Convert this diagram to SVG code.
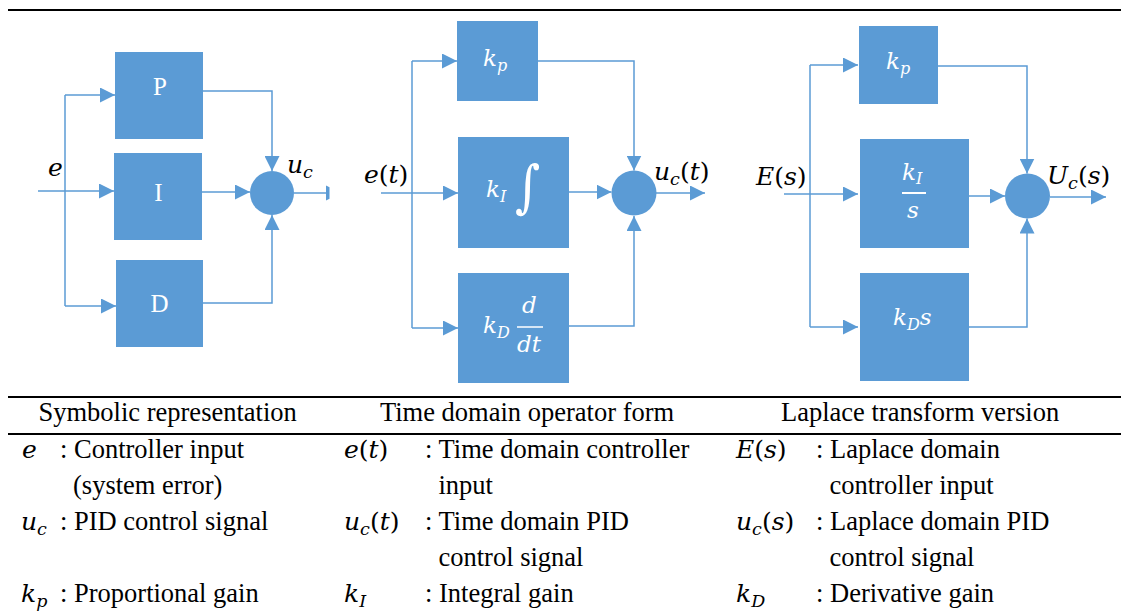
<svg xmlns="http://www.w3.org/2000/svg" width="1121" height="614" viewBox="0 0 1121 614">
<style>
.box{fill:#5b9bd5}
.ln{fill:none;stroke:#5b9bd5;stroke-width:1.5}
.m{font-family:"DejaVu Serif",serif;font-style:italic;font-size:25px;fill:#000}
.up{font-style:normal}
.sb{font-size:17.5px}
.wm{font-family:"DejaVu Serif",serif;font-style:italic;font-size:23px;fill:#fff}
.ws{font-size:16px}
.bl{font-family:"Liberation Serif","Times New Roman",serif;font-size:25px;fill:#fff}
.t{font-family:"Liberation Serif","Times New Roman",serif;font-size:26.5px;fill:#000}
.rule{stroke:#000;stroke-width:2}
.bar{stroke:#fff;stroke-width:1.5}
</style>
<defs>
<marker id="ah" markerUnits="userSpaceOnUse" markerWidth="15" markerHeight="15" refX="15" refY="7.5" orient="auto"><path d="M0,0 L15,7.5 L0,15 z" fill="#5b9bd5"/></marker>
</defs>
<rect width="1121" height="614" fill="#fff"/>
<line class="rule" x1="8" y1="10" x2="1121" y2="10"/>

<g id="connectors">
<path class="ln" d="M38,191 H114" marker-end="url(#ah)"/>
<path class="ln" d="M65,95 V306"/>
<path class="ln" d="M65,95 H115" marker-end="url(#ah)"/>
<path class="ln" d="M65,306 H116" marker-end="url(#ah)"/>
<path class="ln" d="M203,91 H272 V171" marker-end="url(#ah)"/>
<path class="ln" d="M202,192 H250" marker-end="url(#ah)"/>
<path class="ln" d="M203,303 H272 V215" marker-end="url(#ah)"/>
<path class="ln" d="M294,193 H327"/>
<polygon points="326,185.5 329.5,187.3 329.5,198.7 326,200.5" fill="#5b9bd5"/>

<path class="ln" d="M381,193 H458" marker-end="url(#ah)"/>
<path class="ln" d="M412,61 V328"/>
<path class="ln" d="M412,61 H457" marker-end="url(#ah)"/>
<path class="ln" d="M412,328 H458" marker-end="url(#ah)"/>
<path class="ln" d="M538,61 H634 V170.5" marker-end="url(#ah)"/>
<path class="ln" d="M569,192 H611.5" marker-end="url(#ah)"/>
<path class="ln" d="M569,326 H634 V216" marker-end="url(#ah)"/>
<path class="ln" d="M656,193 H705" marker-end="url(#ah)"/>

<path class="ln" d="M784,194 H858" marker-end="url(#ah)"/>
<path class="ln" d="M810,65 V327"/>
<path class="ln" d="M810,65 H858" marker-end="url(#ah)"/>
<path class="ln" d="M810,327 H858" marker-end="url(#ah)"/>
<path class="ln" d="M938,66 H1027 V173.5" marker-end="url(#ah)"/>
<path class="ln" d="M969,196 H1005" marker-end="url(#ah)"/>
<path class="ln" d="M969,327 H1027 V218.5" marker-end="url(#ah)"/>
<path class="ln" d="M1050,197 H1106" marker-end="url(#ah)"/>
</g>

<g id="sym-P"><rect class="box" x="115" y="52" width="88" height="87"/><text class="bl" x="160" y="95" text-anchor="middle">P</text></g>
<g id="sym-I"><rect class="box" x="114" y="153" width="88" height="87"/><text class="bl" x="158.5" y="201" text-anchor="middle">I</text></g>
<g id="sym-D"><rect class="box" x="116" y="260" width="87" height="87"/><text class="bl" x="159.5" y="312" text-anchor="middle">D</text></g>
<g id="sym-sum"><circle class="box" cx="272" cy="193" r="22"/></g>
<g id="sym-labels">
<text class="m" x="48" y="176">e</text>
<text class="m" x="287" y="173">u<tspan class="sb" dy="5">c</tspan></text>
</g>

<g id="time-kp"><rect class="box" x="457" y="21" width="81" height="80"/><text class="wm" x="483" y="66">k<tspan class="ws" dy="5">p</tspan></text></g>
<g id="time-ki"><rect class="box" x="458" y="137" width="111" height="111"/><text class="wm" x="486" y="197">k<tspan class="ws" dy="5">I</tspan></text><text transform="translate(515,206) scale(0.85,1)" font-family="DejaVu Serif" font-size="57" fill="#fff">∫</text></g>
<g id="time-kd"><rect class="box" x="458" y="273" width="111" height="110"/><text class="wm" x="483" y="333">k<tspan class="ws" dy="5">D</tspan></text><text class="wm" x="522" y="313">d</text><line class="bar" x1="517" y1="327" x2="543" y2="327"/><text class="wm" x="517" y="352">dt</text></g>
<g id="time-sum"><circle class="box" cx="634" cy="193" r="22.5"/></g>
<g id="time-labels">
<text class="m" x="364" y="183">e<tspan class="up">(</tspan>t<tspan class="up">)</tspan></text>
<text class="m" x="654" y="180">u<tspan class="sb" dy="5">c</tspan><tspan class="up" dy="-5">(</tspan>t<tspan class="up">)</tspan></text>
</g>

<g id="lap-kp"><rect class="box" x="859" y="26" width="79" height="78"/><text class="wm" x="886" y="69">k<tspan class="ws" dy="5">p</tspan></text></g>
<g id="lap-ki"><rect class="box" x="860" y="139" width="109" height="109"/><text class="wm" x="902" y="180">k<tspan class="ws" dy="4">I</tspan></text><line x1="902" y1="193" x2="926" y2="193" stroke="#fff" stroke-width="2"/><text class="wm" x="907" y="218">s</text></g>
<g id="lap-kd"><rect class="box" x="860" y="273" width="109" height="108"/><text class="wm" x="893" y="325">k<tspan class="ws" dy="5">D</tspan><tspan dy="-5">s</tspan></text></g>
<g id="lap-sum"><circle class="box" cx="1027.5" cy="196" r="22.5"/></g>
<g id="lap-labels">
<text class="m" x="756" y="185">E<tspan class="up">(</tspan>s<tspan class="up">)</tspan></text>
<text class="m" x="1047" y="184">U<tspan class="sb" dy="5">c</tspan><tspan class="up" dy="-5">(</tspan>s<tspan class="up">)</tspan></text>
</g>

<g id="table">
<line class="rule" x1="8" y1="397" x2="1121" y2="397"/>
<line class="rule" x1="8" y1="434" x2="1121" y2="434"/>
<text class="t" x="38.5" y="421">Symbolic representation</text>
<text class="t" x="380" y="421">Time domain operator form</text>
<text class="t" x="781" y="421">Laplace transform version</text>

<text class="m" x="22" y="458">e</text>
<text class="m" x="21" y="530">u<tspan class="sb" dy="5">c</tspan></text>
<text class="m" x="21" y="602">k<tspan class="sb" dy="5">p</tspan></text>
<text class="m" x="344" y="458">e<tspan class="up">(</tspan>t<tspan class="up">)</tspan></text>
<text class="m" x="344" y="530">u<tspan class="sb" dy="5">c</tspan><tspan class="up" dy="-5">(</tspan>t<tspan class="up">)</tspan></text>
<text class="m" x="344" y="602">k<tspan class="sb" dy="5">I</tspan></text>
<text class="m" x="736" y="458">E<tspan class="up">(</tspan>s<tspan class="up">)</tspan></text>
<text class="m" x="736" y="530">u<tspan class="sb" dy="5">c</tspan><tspan class="up" dy="-5">(</tspan>s<tspan class="up">)</tspan></text>
<text class="m" x="736" y="602">k<tspan class="sb" dy="5">D</tspan></text>

<text class="t" x="60" y="458">: Controller input</text>
<text class="t" x="73" y="494">(system error)</text>
<text class="t" x="60" y="530">: PID control signal</text>
<text class="t" x="60" y="602">: Proportional gain</text>
<text class="t" x="425" y="458">: Time domain controller</text>
<text class="t" x="438.5" y="494">input</text>
<text class="t" x="425" y="530">: Time domain PID</text>
<text class="t" x="438.5" y="566">control signal</text>
<text class="t" x="425" y="602">: Integral gain</text>
<text class="t" x="816" y="458">: Laplace domain</text>
<text class="t" x="829.5" y="494">controller input</text>
<text class="t" x="816" y="530">: Laplace domain PID</text>
<text class="t" x="829.5" y="566">control signal</text>
<text class="t" x="816" y="602">: Derivative gain</text>
</g>
</svg>
